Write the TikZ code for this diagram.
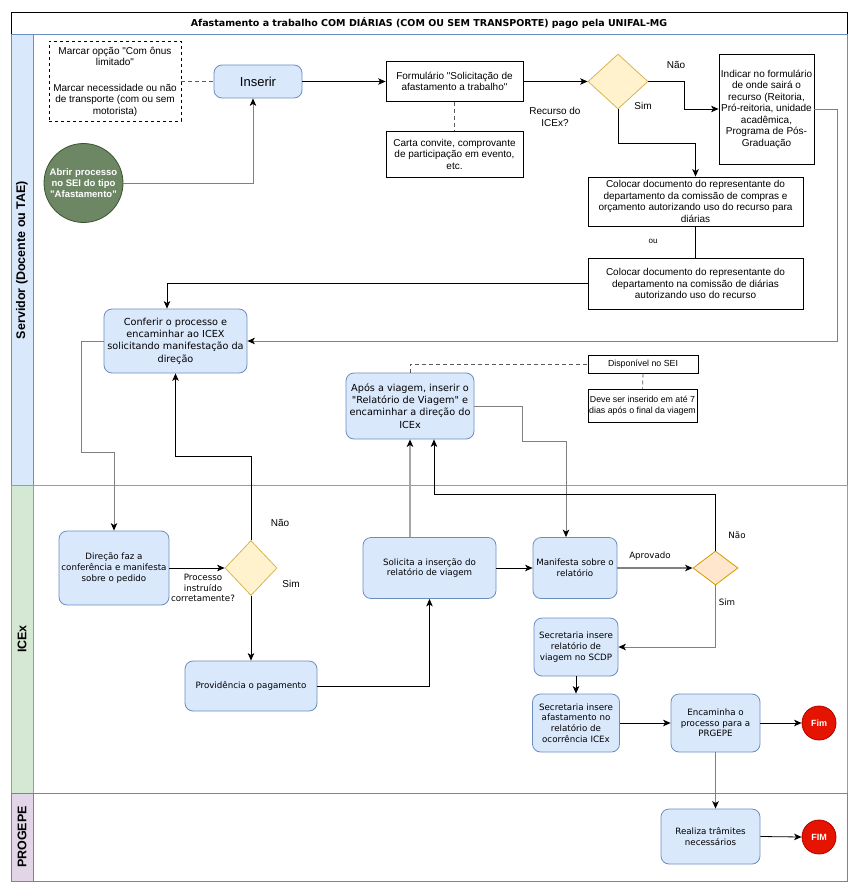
\documentclass[tikz,border=0pt]{standalone}
\usepackage{fontspec}
\setmainfont{Liberation Sans}
\newfontfamily\verd{DejaVu Sans}
\usetikzlibrary{shapes.geometric, arrows.meta}

\newcommand\qq{\textquotedbl}

\definecolor{bluefill}{HTML}{DAE8FC}
\definecolor{blueline}{HTML}{6C8EBF}
\definecolor{greenfill}{HTML}{D5E8D4}
\definecolor{greenline}{HTML}{82B366}
\definecolor{purplefill}{HTML}{E1D5E7}
\definecolor{purpleline}{HTML}{9673A6}
\definecolor{decfill}{HTML}{FFF2CC}
\definecolor{decline}{HTML}{D6B656}
\definecolor{peachfill}{HTML}{FFE6CC}
\definecolor{peachline}{HTML}{D79B00}
\definecolor{startfill}{HTML}{6D8764}
\definecolor{startline}{HTML}{3A5431}
\definecolor{endfill}{HTML}{E51400}
\definecolor{endline}{HTML}{B20000}
\definecolor{linkgray}{HTML}{808080}
\definecolor{dashgray}{HTML}{5A5A5A}

\tikzset{
  box/.style={draw, line width=0.8pt, align=center, inner sep=1pt, font=\fontsize{10}{11.5}\selectfont},
  notebox/.style={box, dash pattern=on 3pt off 3pt},
  smallbox/.style={box, font=\fontsize{8.8}{10.5}\selectfont},
  rbox/.style={draw=blueline, fill=bluefill, line width=0.8pt, rounded corners=8pt, align=center, inner sep=1pt, font=\verd\fontsize{9.7}{12.3}\selectfont},
  rboxs/.style={rbox, font=\verd\fontsize{8.7}{10.7}\selectfont},
  decision/.style={diamond, draw=decline, fill=decfill, line width=0.8pt, inner sep=0pt},
  decisionp/.style={decision, draw=peachline, fill=peachfill},
  endcircle/.style={circle, draw=endline, fill=endfill, line width=0.8pt, minimum size=34pt, inner sep=0pt, text=white, font=\bfseries\fontsize{9}{10}\selectfont},
  lbl/.style={inner sep=0pt, align=center, font=\fontsize{10}{11.5}\selectfont},
  lbls/.style={inner sep=0pt, align=center, font=\verd\fontsize{8.7}{10.7}\selectfont},
  lanehead/.style={rotate=90, font=\bfseries\fontsize{12.5}{14}\selectfont},
  tip/.style={-{Stealth[length=7.5pt,width=6.5pt,inset=2pt,color=black]}},
  link/.style={draw=black, line width=0.8pt, tip},
  linkg/.style={draw=linkgray, line width=0.9pt, tip},
  plainlink/.style={draw=black, line width=0.8pt},
  dlink/.style={draw=dashgray, line width=0.8pt, dash pattern=on 4pt off 3pt}
}

\begin{document}
\begin{tikzpicture}[x=1pt,y=-1pt]
\useasboundingbox (0,0) rectangle (859,896);

\draw[line width=0.8pt] (11,12) rectangle (847,34);
\node[font=\verd\bfseries\fontsize{9.5}{11}\selectfont] (title) at (429,23)
  {Afastamento a trabalho COM DIÁRIAS (COM OU SEM TRANSPORTE) pago pela UNIFAL-MG};

\draw[draw=blueline, line width=0.8pt] (11,34) rectangle (847,485);
\draw[draw=blueline, fill=bluefill, line width=0.8pt] (11,34) rectangle (33,485);
\draw[draw=greenline, line width=0.8pt] (11,485) rectangle (847,793);
\draw[draw=greenline, fill=greenfill, line width=0.8pt] (11,485) rectangle (33,793);
\draw[draw=purpleline, line width=0.8pt] (11,793) rectangle (847,881);
\draw[draw=purpleline, fill=purplefill, line width=0.8pt] (11,793) rectangle (33,881);
\node[lanehead] (laneserv) at (22,260) {Servidor (Docente ou TAE)};
\node[lanehead] (laneicex) at (22,639) {ICEx};
\node[lanehead] (laneprogepe) at (22,837) {PROGEPE};

\node[notebox, minimum width=132pt, minimum height=80pt] (note) at (115,81.5)
  {Marcar opção \qq Com ônus\\limitado\qq\\[14pt]Marcar necessidade ou não\\de transporte (com ou sem\\motorista)};
\node[rbox, minimum width=88pt, minimum height=33pt, font=\fontsize{13}{15}\selectfont] (inserir) at (258,81.5) {Inserir};
\node[circle, draw=startline, fill=startfill, line width=0.8pt, minimum size=79pt, inner sep=0pt,
  text=white, align=center, font=\bfseries\fontsize{9.5}{10.8}\selectfont] (abrir) at (83.5,183)
  {Abrir processo\\no SEI do tipo\\\qq Afastamento\qq};
\node[box, minimum width=137pt, minimum height=40pt] (form) at (454.5,81.5)
  {Formulário \qq Solicitação de\\afastamento a trabalho\qq};
\node[box, minimum width=137pt, minimum height=46pt] (carta) at (454.5,154)
  {Carta convite, comprovante\\de participação em evento,\\etc.};
\node[decision, minimum width=60pt, minimum height=55pt] (dia1) at (618,81.5) {};
\node[lbl] (recurso) at (555,117) {Recurso do\\ICEx?};
\node[lbl] (nao1) at (676,65) {Não};
\node[lbl] (sim1) at (643,106) {Sim};
\node[box, minimum width=95pt, minimum height=110pt] (indicar) at (766.5,109)
  {Indicar no formulário\\de onde sairá o\\recurso (Reitoria,\\Pró-reitoria, unidade\\acadêmica,\\Programa de Pós-\\Graduação};
\node[box, minimum width=215pt, minimum height=49pt] (col1) at (695.5,201.5)
  {Colocar documento do representante do\\departamento da comissão de compras e\\orçamento autorizando uso do recurso para\\diárias};
\node[lbl, font=\fontsize{8}{9}\selectfont] (ou) at (653,241) {ou};
\node[box, minimum width=215pt, minimum height=51pt] (col2) at (695.5,283.5)
  {Colocar documento do representante do\\departamento na comissão de diárias\\autorizando uso do recurso};
\node[rbox, minimum width=143pt, minimum height=64pt] (conferir) at (175.5,341)
  {Conferir o processo e\\encaminhar ao ICEX\\solicitando manifestação da\\direção};
\node[rbox, minimum width=128pt, minimum height=66pt] (apos) at (410,406)
  {Após a viagem, inserir o\\\qq Relatório de Viagem\qq{} e\\encaminhar a direção do\\ICEx};
\node[smallbox, minimum width=110pt, minimum height=18pt] (disp) at (643,364) {Disponível no SEI};
\node[smallbox, minimum width=109pt, minimum height=33pt] (deve) at (642.5,405.5)
  {Deve ser inserido em até 7\\dias após o final da viagem};

\node[rboxs, minimum width=110pt, minimum height=74pt] (direcao) at (114,568)
  {Direção faz a\\conferência e manifesta\\sobre o pedido};
\node[decision, minimum width=52pt, minimum height=55pt] (dia2) at (251,568) {};
\node[lbls] (instruido) at (203,588) {Processo\\instruído\\corretamente?};
\node[lbl] (nao2) at (280,523) {Não};
\node[lbl] (sim2) at (291,584) {Sim};
\node[rboxs, minimum width=132pt, minimum height=50pt] (provid) at (251,686) {Providência o pagamento};
\node[rboxs, minimum width=133pt, minimum height=61pt] (solicita) at (429.5,568)
  {Solicita a inserção do\\relatório de viagem};
\node[rboxs, minimum width=84pt, minimum height=61pt] (manif) at (575,568) {Manifesta sobre o\\relatório};
\node[decisionp, minimum width=45pt, minimum height=34pt] (dia3) at (715.5,568) {};
\node[lbls] (aprovado) at (650,556) {Aprovado};
\node[lbls] (nao3) at (737,535) {Não};
\node[lbls] (sim3) at (727,602) {Sim};
\node[rboxs, minimum width=84pt, minimum height=58pt] (sec1) at (576,647)
  {Secretaria insere\\relatório de\\viagem no SCDP};
\node[rboxs, minimum width=87pt, minimum height=58pt] (sec2) at (576,723)
  {Secretaria insere\\afastamento no\\relatório de\\ocorrência ICEx};
\node[rboxs, minimum width=89pt, minimum height=58pt] (encam) at (715.5,723)
  {Encaminha o\\processo para a\\PRGEPE};
\node[endcircle] (fim) at (819,723) {Fim};
\node[rboxs, minimum width=99pt, minimum height=55pt] (realiza) at (710.5,836.5)
  {Realiza trâmites\\necessários};
\node[endcircle] (fim2) at (819,837) {FIM};

\draw[dlink] (note.east) -- (inserir.west);
\draw[linkg] (abrir.east) -| ([xshift=-5pt]inserir.south);
\draw[link] (inserir.east) -- (form.west);
\draw[dlink] (form.south) -- (carta.north);
\draw[link] (form.east) -- (dia1.west);
\draw[link] (dia1.east) -- ++(36,0) |- (indicar.west);
\draw[link] (dia1.south) -- ++(0,34) -| (col1.north);
\draw[plainlink] (col1.south) -- (col2.north);
\draw[link] (col2.west) -| ([xshift=-8.5pt]conferir.north);
\draw[linkg] (indicar.east) -- ++(23,0) |- (conferir.east);
\draw[linkg] (conferir.west) -- ++(-22,0) -- ++(0,111) -| (direcao.north);
\draw[link] (direcao.east) -- (dia2.west);
\draw[link] (dia2.north) -- ++(0,-84) -| (conferir.south);
\draw[link] (dia2.south) -- (provid.north);
\draw[link] (provid.east) -| (solicita.south);
\draw[linkg, draw=linkgray!70, line width=1.5pt] (solicita.north -| apos.south) -- (apos.south);
\draw[link] (solicita.east) -- (manif.west);
\draw[dlink] (apos.north) |- (disp.west);
\draw[dlink] (disp.south) -- (deve.north);
\draw[linkg] (apos.east) -- ++(48,0) -- ++(0,35) -| ([xshift=-9pt]manif.north);
\draw[linkg, line width=1.3pt] (manif.east) -- (dia3.west);
\draw[link] (dia3.north) -- ++(0,-56) -| ([xshift=24pt]apos.south);
\draw[linkg] (dia3.south) |- (sec1.east);
\draw[link] (sec1.south) -- (sec2.north);
\draw[link] (sec2.east) -- (encam.west);
\draw[link] (encam.east) -- (fim.west);
\draw[linkg, line width=1.3pt] (encam.south) -- (encam.south |- realiza.north);
\draw[link] (realiza.east) -- (fim2.west);
\end{tikzpicture}
\end{document}
